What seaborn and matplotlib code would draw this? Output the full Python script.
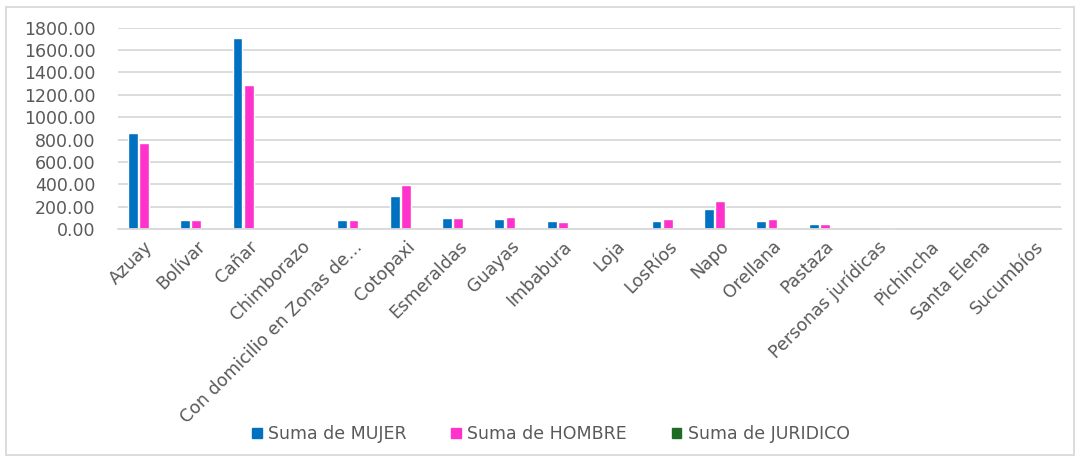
import seaborn as sns
import matplotlib.pyplot as plt
import matplotlib.patches as mpatches
import pandas as pd

# Datos
provincias = ['Azuay', 'Bolívar', 'Cañar', 'Chimborazo', 'Con domicilio en Zonas de…',
              'Cotopaxi', 'Esmeraldas', 'Guayas', 'Imbabura', 'Loja', 'LosRíos', 'Napo',
              'Orellana', 'Pastaza', 'Personas jurídicas', 'Pichincha', 'Santa Elena', 'Sucumbíos']
mujer = [860, 80, 1710, 0, 80, 295, 95, 90, 70, 0, 70, 180, 70, 43, 0, 0, 0, 0]
hombre = [770, 80, 1285, 0, 80, 395, 95, 105, 60, 0, 88, 253, 88, 43, 0, 0, 0, 0]
juridico = [0, 0, 0, 0, 0, 0, 0, 0, 0, 0, 0, 0, 0, 0, 12, 0, 0, 0]
series = ['Suma de MUJER', 'Suma de HOMBRE', 'Suma de JURIDICO']
colores = ['#0070C0', '#FF33CC', '#1E6B24']

df = pd.DataFrame({'provincia': provincias, series[0]: mujer,
                   series[1]: hombre, series[2]: juridico})
largo = df.melt(id_vars='provincia', var_name='serie', value_name='valor')

sns.set_style('white')
plt.rcParams['font.family'] = ['DejaVu Sans']

fig = plt.figure(figsize=(10.8, 4.61), dpi=100)
ax = fig.add_axes([0.109, 0.503, 0.873, 0.437])

sns.barplot(data=largo, x='provincia', y='valor', hue='serie', palette=colores,
            hue_order=series, width=0.64, gap=0.12, saturation=1, ax=ax, legend=False)

ax.set_ylim(0, 1800)
ax.set_yticks(range(0, 1801, 200))
ax.set_yticklabels([f'{v:.2f}' for v in range(0, 1801, 200)], fontsize=12.5, color='#595959')
ax.set_xlim(-0.5, len(provincias) - 0.5)
ax.set_xticks(range(len(provincias)))
ax.set_xticklabels(provincias, rotation=45, ha='right', rotation_mode='anchor',
                   fontsize=12.5, color='#595959')
ax.tick_params(axis='y', length=0, pad=16)
ax.tick_params(axis='x', length=0, pad=6)
ax.set_xlabel('')
ax.set_ylabel('')
ax.yaxis.grid(True, color='#D9D9D9', linewidth=1.3)
ax.set_axisbelow(True)
for lado in ['top', 'right', 'left']:
    ax.spines[lado].set_visible(False)
ax.spines['bottom'].set_color('#D9D9D9')
ax.spines['bottom'].set_linewidth(1.3)

handles = [mpatches.Patch(color=c, label=s) for c, s in zip(colores, series)]
fig.legend(handles=handles, loc='center', bbox_to_anchor=(0.51, 0.058), ncol=3,
           frameon=False, fontsize=12.5, handlelength=0.55, handleheight=0.55,
           handletextpad=0.35, columnspacing=2.6, labelcolor='#595959')

# marco del gráfico
fig.patches.append(mpatches.Rectangle((0.006, 0.013), 0.988, 0.972, transform=fig.transFigure,
                                      fill=False, edgecolor='#D9D9D9', linewidth=1.3))

plt.savefig('out.png', dpi=100)
